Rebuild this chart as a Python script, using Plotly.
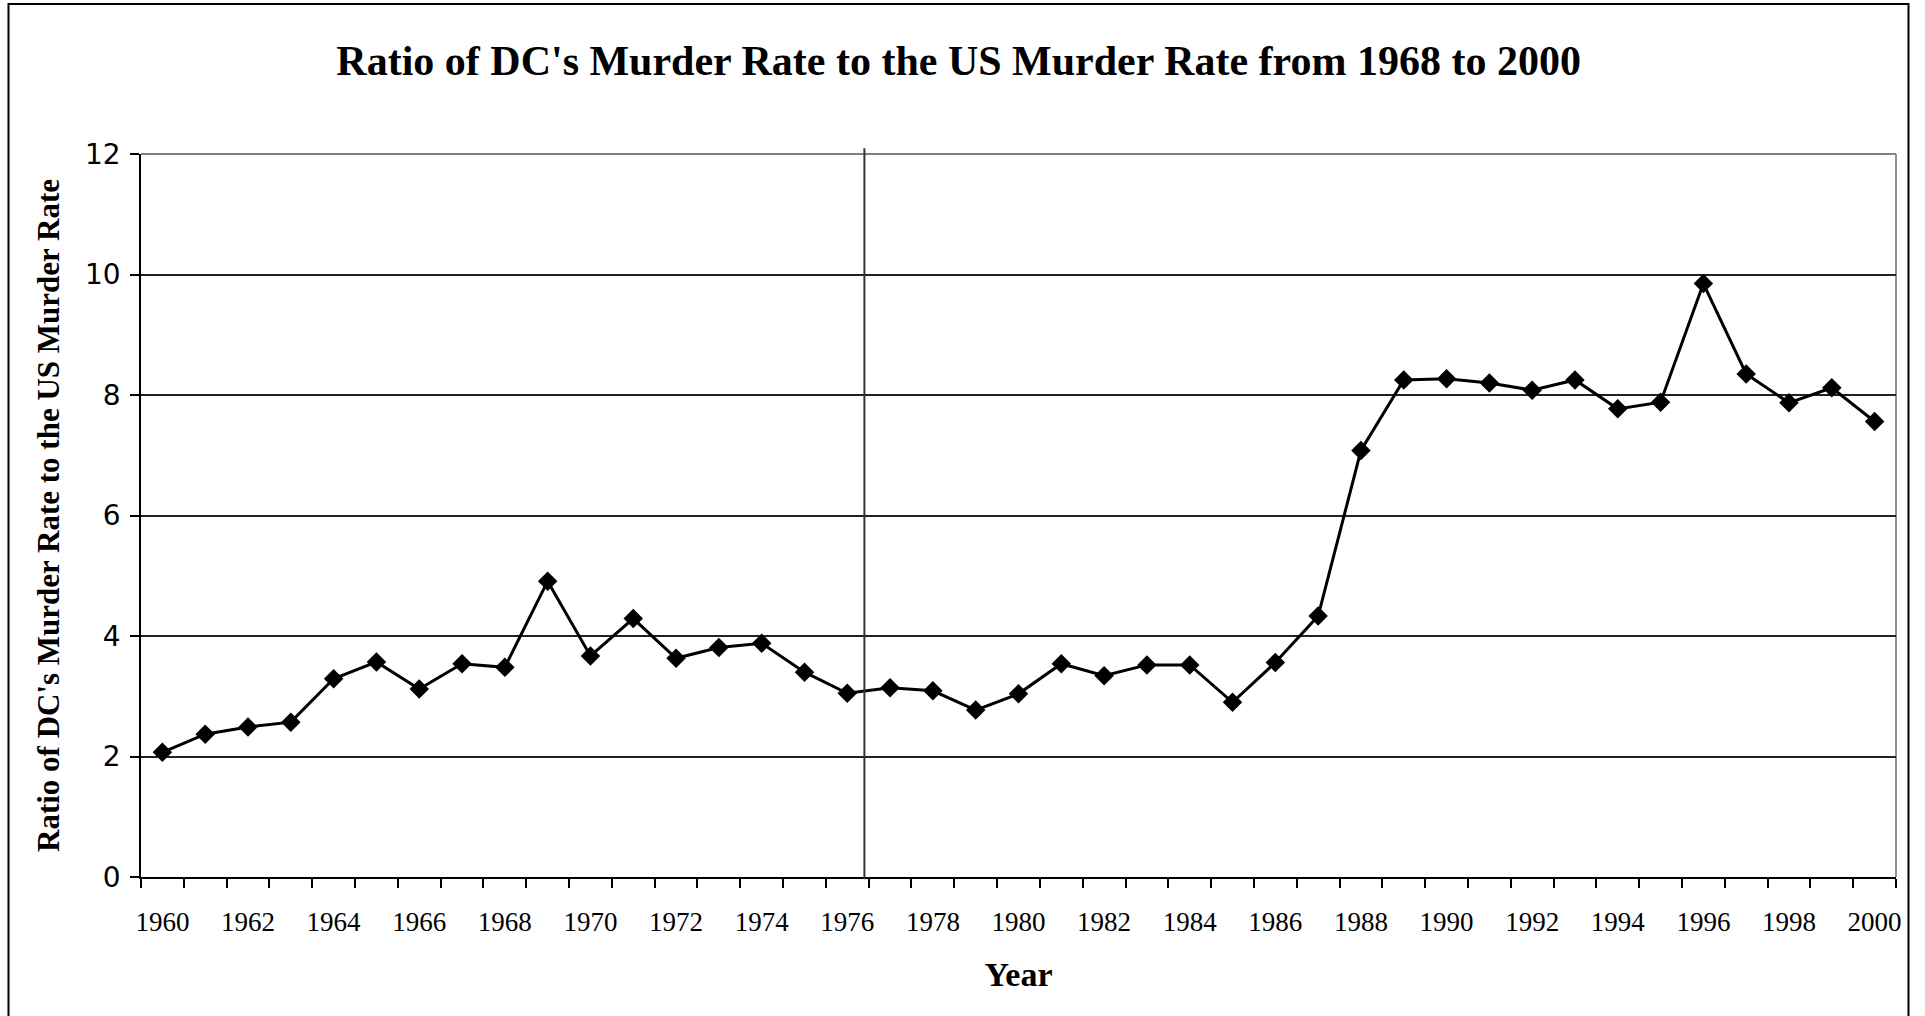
import plotly.graph_objects as go

# ---- data ----
years = list(range(1960, 2001))
ratio = [2.07, 2.37, 2.49, 2.57, 3.29, 3.57, 3.12, 3.54, 3.48, 4.91,
         3.67, 4.29, 3.63, 3.81, 3.88, 3.40, 3.05, 3.14, 3.09, 2.77,
         3.04, 3.54, 3.34, 3.52, 3.52, 2.90, 3.56, 4.33, 7.08, 8.25,
         8.27, 8.20, 8.08, 8.25, 7.77, 7.88, 9.85, 8.35, 7.87, 8.12,
         7.56]
x_tick_years = list(range(1960, 2001, 2))
x_tick_labels = [str(y) for y in x_tick_years]
y_tick_vals = [0, 2, 4, 6, 8, 10, 12]
divider_year = 1976.4

title_text = "Ratio of DC's Murder Rate to the US Murder Rate from 1968 to 2000"
y_title = "Ratio of DC's Murder Rate to the US Murder Rate"
x_title = "Year"

SERIF = "Liberation Serif, Times New Roman, serif"
SANS = "DejaVu Sans, Verdana, sans-serif"

fig = go.Figure()
fig.add_trace(go.Scatter(
    x=years, y=ratio, mode="lines+markers",
    line=dict(color="black", width=3),
    marker=dict(symbol="diamond", size=15, color="black"),
    showlegend=False, hoverinfo="x+y",
))

W, H = 1925, 1016
L, R, T, B = 141, 29, 154, 139

fig.update_layout(
    width=W, height=H,
    margin=dict(l=L, r=R, t=T, b=B, pad=0),
    paper_bgcolor="white", plot_bgcolor="white",
    title=dict(text="<b>" + title_text + "</b>",
               font=dict(family=SERIF, size=42, color="black"),
               x=0.498, xref="container", xanchor="center",
               y=1 - 60 / H, yref="container", yanchor="middle"),
    xaxis=dict(
        range=[1959.5, 2000.5], tickmode="array",
        tickvals=x_tick_years, ticktext=x_tick_labels,
        ticks="", showgrid=False, zeroline=False,
        showline=True, linecolor="black", linewidth=2,
        tickfont=dict(family=SERIF, size=27, color="black"),
        ticklabelstandoff=20,
        minor=dict(tickmode="linear", tick0=1959.5, dtick=1,
                   ticks="outside", ticklen=9, tickwidth=1.5,
                   tickcolor="black", showgrid=False),
        title=dict(text="<b>" + x_title + "</b>",
                   font=dict(family=SERIF, size=34, color="black"),
                   standoff=26),
    ),
    yaxis=dict(
        range=[0, 12], tickmode="array", tickvals=y_tick_vals,
        ticks="outside", ticklen=9, tickwidth=1.5, tickcolor="black",
        showgrid=True, gridcolor="#222222", gridwidth=1.5,
        zeroline=False, showline=True, linecolor="black", linewidth=1.5,
        tickfont=dict(family=SANS, size=28, color="black"),
        ticklabelstandoff=4,
        title=dict(text="<b>" + y_title + "</b>",
                   font=dict(family=SERIF, size=31, color="black"),
                   standoff=16),
    ),
    shapes=[
        # plot-area border (gray, top and right visible)
        dict(type="line", xref="paper", yref="paper", x0=0, x1=1, y0=1, y1=1,
             line=dict(color="#808080", width=2), layer="below"),
        dict(type="line", xref="paper", yref="paper", x0=1, x1=1, y0=0, y1=1,
             line=dict(color="#909090", width=2), layer="below"),
        # vertical divider line
        dict(type="line", xref="x", yref="paper", x0=divider_year, x1=divider_year,
             y0=-0.003, y1=1.008, line=dict(color="#333333", width=2)),
        # outer chart border
        dict(type="rect", xref="paper", yref="paper",
             x0=(8.5 - L) / (W - L - R), x1=(1908.5 - L) / (W - L - R),
             y0=-0.4, y1=(H - B - 4) / (H - T - B),
             line=dict(color="black", width=2), fillcolor="rgba(0,0,0,0)"),
    ],
)

fig.write_html("out.html", config={"displayModeBar": False},
               post_script="document.body.style.margin='0';")
